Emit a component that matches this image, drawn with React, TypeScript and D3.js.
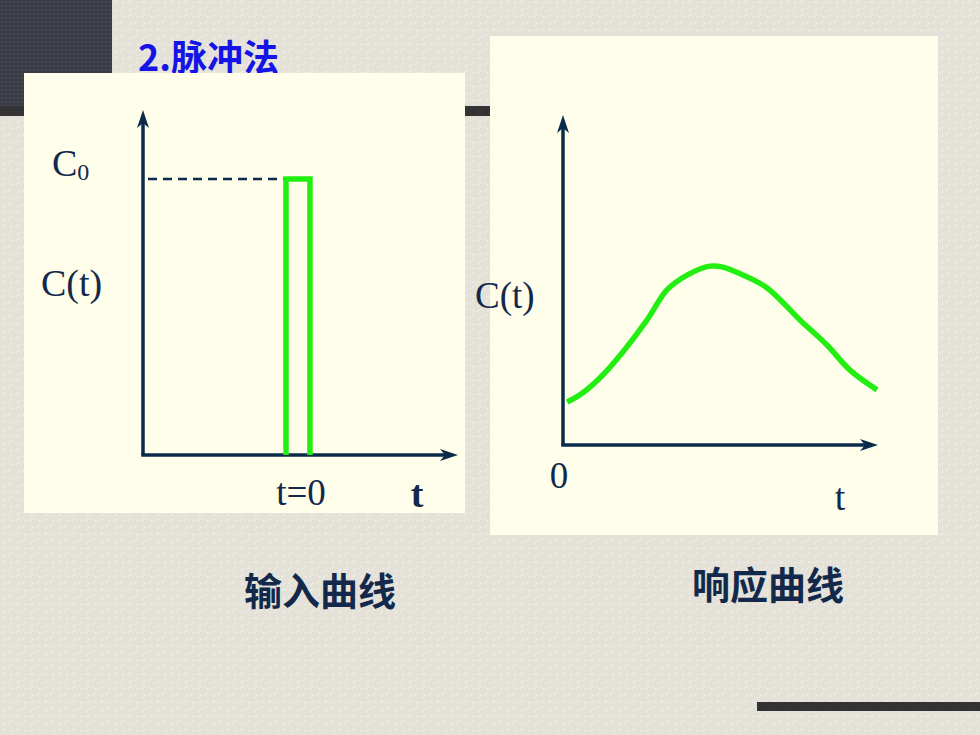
import React from "react";
import * as d3 from "d3";

// Input curve (pulse) data, in axis units (0-100)
const pulseT = [45.4, 45.4, 53, 53];
const pulseC = [0, 80, 80, 0];
const c0Level = 80;

// Response curve data
const respT = [1.3, 5.4, 11.7, 19, 26.7, 33, 39.4, 46.7, 50.8, 57.1, 64.8, 75.2, 83.8, 91.1, 99.7];
const respC = [13, 15.2, 20.3, 28.2, 37.9, 47, 51.5, 54.2, 53.9, 51.5, 47.6, 37.9, 30.3, 22.7, 16.7];

const title = "2.脉冲法";
const captions = ["输入曲线", "响应曲线"];

const AXIS = "#0b2b4b";
const GREEN = "#22ee11";
const TEXT = "#13294b";
const PANEL = "#fefeea";
const SERIF = "'Liberation Serif', 'DejaVu Serif', serif";
const CJK = "'Noto Sans CJK SC', sans-serif";

function Arrows({ x0, y0, x1, y1 }: { x0: number; y0: number; x1: number; y1: number }) {
  return (
    <g>
      <line x1={x0} y1={y0} x2={x0} y2={y1 + 8} stroke={AXIS} strokeWidth={3.5} />
      <line x1={x0 - 1.75} y1={y0} x2={x1 - 8} y2={y0} stroke={AXIS} strokeWidth={3.5} />
      <path d={`M${x0},${y1} L${x0 - 6},${y1 + 18} L${x0},${y1 + 13} L${x0 + 6},${y1 + 18} Z`} fill={AXIS} />
      <path d={`M${x1},${y0} L${x1 - 18},${y0 - 6} L${x1 - 13},${y0} L${x1 - 18},${y0 + 6} Z`} fill={AXIS} />
    </g>
  );
}

export default function App() {
  // Left chart scales
  const lx = d3.scaleLinear().domain([0, 100]).range([143, 458]);
  const ly = d3.scaleLinear().domain([0, 100]).range([455, 110]);
  // Right chart scales
  const rx = d3.scaleLinear().domain([0, 100]).range([563, 878]);
  const ry = d3.scaleLinear().domain([0, 100]).range([445, 115]);

  const pulsePath = d3
    .line<number>()
    .x((_, i) => lx(pulseT[i]))
    .y((_, i) => ly(pulseC[i]))(pulseT.map((t) => t)) as string;

  const respPath = d3
    .line<number>()
    .x((_, i) => rx(respT[i]))
    .y((_, i) => ry(respC[i]))
    .curve(d3.curveCatmullRom.alpha(0.5))(respT.map((t) => t)) as string;

  return (
    <svg width={980} height={735} style={{ position: "absolute", left: 0, top: 0 }}>
      <defs>
        <pattern id="tex" width="14" height="14" patternUnits="userSpaceOnUse">
          <rect width="14" height="14" fill="#e4e2d8" />
          <path d="M1,3 L6,1 M8,10 L12,6 M3,12 L5,8 M10,2 L13,3" stroke="#f0efe8" strokeWidth={1} />
        </pattern>
        <pattern id="dots" width="4" height="4" patternUnits="userSpaceOnUse">
          <rect width="4" height="4" fill="#3a3a44" />
          <circle cx="2" cy="2" r="0.9" fill="#50505c" />
        </pattern>
      </defs>
      <rect x={0} y={0} width={980} height={735} fill="url(#tex)" />
      <rect x={0} y={0} width={112} height={106} fill="url(#dots)" />
      <rect x={0} y={106} width={490} height={10} fill="#333333" />
      <rect x={757} y={702} width={223} height={9} fill="#333333" />

      <text x={138} y={71} fill="#1414e6" fontFamily={CJK} fontWeight="bold" fontSize={36}>
        {title}
      </text>

      {/* Left panel */}
      <rect x={24} y={73} width={441} height={440} fill={PANEL} />
      <Arrows x0={lx(0)} y0={ly(0)} x1={lx(100)} y1={ly(100)} />
      <line
        x1={lx(0) + 5}
        y1={ly(c0Level)}
        x2={lx(pulseT[0])}
        y2={ly(c0Level)}
        stroke={AXIS}
        strokeWidth={2.5}
        strokeDasharray="9,6"
      />
      <path d={pulsePath} fill="none" stroke={GREEN} strokeWidth={5.5} strokeLinejoin="miter" />
      <text x={52} y={176} fill={TEXT} fontFamily={SERIF} fontSize={38}>
        C<tspan fontSize={24} dy={4}>0</tspan>
      </text>
      <text x={41} y={296} fill={TEXT} fontFamily={SERIF} fontSize={38}>C(t)</text>
      <text x={301} y={505} fill={TEXT} fontFamily={SERIF} fontSize={37} textAnchor="middle">t=0</text>
      <text x={417} y={507} fill={TEXT} fontFamily={SERIF} fontSize={38} fontWeight="bold" textAnchor="middle">t</text>

      {/* Right panel */}
      <rect x={490} y={36} width={448} height={499} fill={PANEL} />
      <Arrows x0={rx(0)} y0={ry(0)} x1={rx(100)} y1={ry(100)} />
      <path d={respPath} fill="none" stroke={GREEN} strokeWidth={5.5} strokeLinejoin="round" strokeLinecap="butt" />
      <text x={475} y={308} fill={TEXT} fontFamily={SERIF} fontSize={37}>C(t)</text>
      <text x={559} y={488} fill={TEXT} fontFamily={SERIF} fontSize={37} textAnchor="middle">0</text>
      <text x={840} y={510} fill={TEXT} fontFamily={SERIF} fontSize={38} textAnchor="middle">t</text>

      <text x={320} y={605} fill={TEXT} fontFamily={CJK} fontWeight="bold" fontSize={38} textAnchor="middle">
        {captions[0]}
      </text>
      <text x={768} y={599} fill={TEXT} fontFamily={CJK} fontWeight="bold" fontSize={38} textAnchor="middle">
        {captions[1]}
      </text>
    </svg>
  );
}
